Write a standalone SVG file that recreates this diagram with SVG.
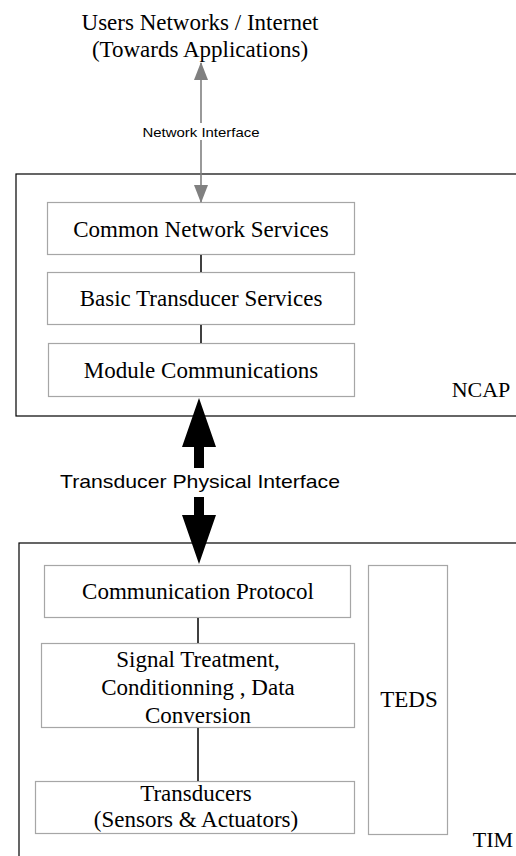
<svg xmlns="http://www.w3.org/2000/svg" width="516" height="856" viewBox="0 0 516 856">
<style>
.serif{font-family:"Liberation Serif","Times New Roman",serif;font-size:23px;fill:#000;text-anchor:middle}
.sans{font-family:"Liberation Sans",Arial,sans-serif;fill:#000;text-anchor:middle}
.frame{fill:none;stroke:#000;stroke-width:1.2}
.box{fill:#fff;stroke:#a6a6a6;stroke-width:1.2}
.link{stroke:#000;stroke-width:1.5;fill:none}
</style>
<defs>
<marker id="gh" markerUnits="userSpaceOnUse" markerWidth="18" markerHeight="14" refX="17" refY="7" orient="auto-start-reverse" viewBox="0 0 18 14">
<path d="M0,0 L18,7 L0,14 Z" fill="#808080"/>
</marker>
</defs>
<rect width="516" height="856" fill="#fff"/>
<g id="title">
<text class="serif" x="200" y="30">Users Networks / Internet</text>
<text class="serif" x="200" y="57">(Towards Applications)</text>
</g>
<g id="ncap">
<rect class="frame" x="16" y="174" width="520" height="242"/>
<text class="serif" x="481" y="397" style="font-size:22px">NCAP</text>
</g>
<g id="tim">
<rect class="frame" x="19" y="543" width="520" height="330"/>
<text class="serif" x="493" y="847" style="font-size:22px">TIM</text>
</g>
<g id="common-network-services">
<rect class="box" x="47.5" y="202.5" width="307" height="52"/>
<text class="serif" x="201" y="237">Common Network Services</text>
</g>
<g id="basic-transducer-services">
<rect class="box" x="47.5" y="272.5" width="307" height="52"/>
<text class="serif" x="201" y="306">Basic Transducer Services</text>
</g>
<g id="module-communications">
<rect class="box" x="48.5" y="343.5" width="306" height="53"/>
<text class="serif" x="201" y="378">Module Communications</text>
</g>
<g id="communication-protocol">
<rect class="box" x="44.5" y="565.5" width="306" height="52"/>
<text class="serif" x="198" y="599">Communication Protocol</text>
</g>
<g id="signal-treatment">
<rect class="box" x="41.5" y="643.5" width="313" height="84"/>
<text class="serif" x="198" y="667">Signal Treatment,</text>
<text class="serif" x="198" y="695">Conditionning , Data</text>
<text class="serif" x="198" y="723">Conversion</text>
</g>
<g id="transducers">
<rect class="box" x="35.5" y="781.5" width="319" height="52"/>
<text class="serif" x="196" y="801">Transducers</text>
<text class="serif" x="196" y="827">(Sensors &amp; Actuators)</text>
</g>
<g id="teds">
<rect class="box" x="368.5" y="565.5" width="79" height="269"/>
<text class="serif" x="409" y="707">TEDS</text>
</g>
<g id="connectors">
<line x1="201" y1="63" x2="201" y2="202" stroke="#808080" stroke-width="1.6" marker-start="url(#gh)" marker-end="url(#gh)"/>
<rect x="140" y="123" width="124" height="17" fill="#fff"/>
<text class="sans" x="201" y="137" style="font-size:13px" textLength="117" lengthAdjust="spacingAndGlyphs">Network Interface</text>
<line class="link" x1="201" y1="255" x2="201" y2="272"/>
<line class="link" x1="201" y1="325" x2="201" y2="343"/>
<line class="link" x1="198" y1="618" x2="198" y2="643"/>
<line class="link" x1="198" y1="728" x2="198" y2="781"/>
<path d="M199,398 L216,447 L204,447 L204,468 L194,468 L194,447 L182,447 Z" fill="#000"/>
<path d="M199,564 L216,515 L204,515 L204,497 L194,497 L194,515 L182,515 Z" fill="#000"/>
<text class="sans" x="200" y="488" style="font-size:19px" textLength="280" lengthAdjust="spacingAndGlyphs">Transducer Physical Interface</text>
</g>
</svg>
